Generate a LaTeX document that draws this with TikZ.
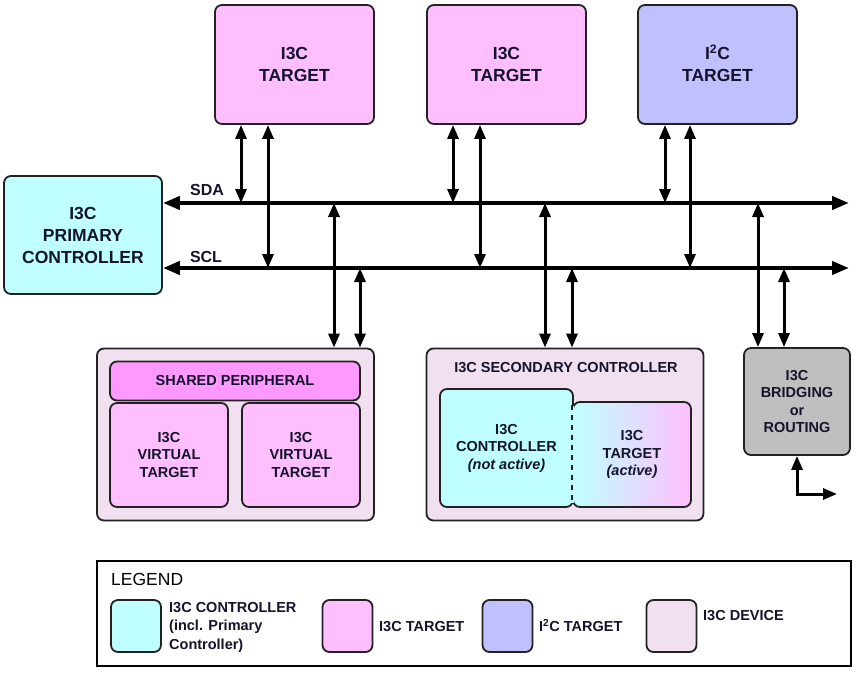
\documentclass[tikz,border=0pt]{standalone}
\usepackage{fontspec}
\setmainfont{Liberation Sans}
\usetikzlibrary{arrows.meta}
\definecolor{cyanC}{HTML}{BFFFFF}
\definecolor{pinkT}{HTML}{FFBFFF}
\definecolor{blueT}{HTML}{C0C0FF}
\definecolor{devC}{HTML}{F0E0F0}
\definecolor{barC}{HTML}{FF99FF}
\definecolor{grayB}{HTML}{BFBFBF}
\definecolor{txt}{HTML}{14142C}
\definecolor{edge}{HTML}{222222}
\begin{document}
\begin{tikzpicture}[x=1pt,y=-1pt,
  box/.style={draw=edge, line width=1.8pt, rounded corners=7pt, align=center, text=txt, inner sep=0pt,
    font=\bfseries\fontsize{17.5}{22}\selectfont},
  sbox/.style={box, font=\bfseries\fontsize{14.5}{17.5}\selectfont},
  lab/.style={text=txt, font=\bfseries\fontsize{16}{19}\selectfont, inner sep=0pt},
  ltxt/.style={text=txt, font=\bfseries\fontsize{14.5}{18.5}\selectfont, inner sep=0pt, anchor=west, align=left},
  tip/.tip={Triangle[length=14pt,width=11pt]},
  bi/.style={line width=3pt, tip-tip},
  bus/.style={line width=4pt, {Triangle[length=17pt,width=13pt]}-{Triangle[length=17pt,width=13pt]}},
]
\useasboundingbox (0,0) rectangle (865,674);
\fill[white] (0,0) rectangle (865,674);

% top devices
\node[box, fill=pinkT, minimum width=159pt, minimum height=119pt] (t1) at (294.5,64.5) {I3C\\TARGET};
\node[box, fill=pinkT, minimum width=159pt, minimum height=119pt] (t2) at (506.5,64.5) {I3C\\TARGET};
\node[box, fill=blueT, minimum width=159pt, minimum height=119pt] (t3) at (717.5,64.5) {I\smash{\textsuperscript{2}}C\\TARGET};

% primary controller
\node[box, fill=cyanC, minimum width=158pt, minimum height=118pt] (pc) at (83,235) {I3C\\PRIMARY\\CONTROLLER};

% bus
\coordinate (sdaE) at (849,203);
\coordinate (sclE) at (849,268);
\draw[bus] (sdaE -| pc.east) -- (sdaE);
\draw[bus] (sclE -| pc.east) -- (sclE);
\node[lab] (sdal) at (207,190) {SDA};
\node[lab] (scll) at (206,257) {SCL};

% shared peripheral
\node[box, fill=devC, minimum width=277pt, minimum height=172pt] (sp) at (235.5,434.5) {};
\node[sbox, fill=barC, minimum width=250pt, minimum height=39pt] (spb) at (235,381) {SHARED PERIPHERAL};
\node[sbox, fill=pinkT, minimum width=118pt, minimum height=104pt] (vt1) at (169,455) {I3C\\VIRTUAL\\TARGET};
\node[sbox, fill=pinkT, minimum width=118pt, minimum height=104pt] (vt2) at (301,455) {I3C\\VIRTUAL\\TARGET};

% secondary controller
\node[box, fill=devC, minimum width=277pt, minimum height=172pt] (sc) at (565,434.5) {};
\node[text=txt, font=\bfseries\fontsize{14.5}{17.5}\selectfont, inner sep=0pt] (sct) at (566,368) {I3C SECONDARY CONTROLLER};
\node[sbox, left color=cyanC, right color=pinkT, minimum width=118pt, minimum height=105pt] (sta) at (632,454.5) {I3C\\TARGET\\\textit{(active)}};
\node[sbox, fill=cyanC, minimum width=133pt, minimum height=118pt] (sco) at (506.5,448) {I3C\\CONTROLLER\\\textit{(not active)}};
\draw[cyanC, line width=3.5pt] ([yshift=-5pt]sta.north west) -- ([yshift=5pt]sta.south west);
\draw[edge, line width=2.2pt, dash pattern=on 5pt off 5pt] ([yshift=-4pt]sta.north west) -- ([yshift=4pt]sta.south west);

% bridging
\node[sbox, fill=grayB, minimum width=106pt, minimum height=107pt] (br) at (797,401.5) {I3C\\BRIDGING\\or\\ROUTING};
\coordinate (brc) at (797,494);
\coordinate (bro) at (837,494);
\draw[bi, miter limit=4] (br.south) -- (brc) -- (bro);

% connectors top
\coordinate (a1) at ([xshift=-53.5pt]t1.south);
\coordinate (a2) at ([xshift=-26.5pt]t1.south);
\coordinate (a3) at ([xshift=-53.5pt]t2.south);
\coordinate (a4) at ([xshift=-26.5pt]t2.south);
\coordinate (a5) at ([xshift=-52.5pt]t3.south);
\coordinate (a6) at ([xshift=-27.5pt]t3.south);
\draw[bi] (a1) -- (a1 |- sdaE);
\draw[bi] (a2) -- (a2 |- sclE);
\draw[bi] (a3) -- (a3 |- sdaE);
\draw[bi] (a4) -- (a4 |- sclE);
\draw[bi] (a5) -- (a5 |- sdaE);
\draw[bi] (a6) -- (a6 |- sclE);

% connectors bottom
\coordinate (b1) at ([xshift=98.5pt]sp.north);
\coordinate (b2) at ([xshift=124.5pt]sp.north);
\coordinate (b3) at ([xshift=-20pt]sc.north);
\coordinate (b4) at ([xshift=7pt]sc.north);
\coordinate (b5) at ([xshift=-39pt]br.north);
\coordinate (b6) at ([xshift=-13pt]br.north);
\draw[bi] (b1 |- sdaE) -- (b1);
\draw[bi] (b2 |- sclE) -- (b2);
\draw[bi] (b3 |- sdaE) -- (b3);
\draw[bi] (b4 |- sclE) -- (b4);
\draw[bi] (b5 |- sdaE) -- (b5);
\draw[bi] (b6 |- sclE) -- (b6);

% legend
\node[draw=black, line width=2pt, minimum width=754pt, minimum height=105pt, inner sep=0pt] (lg) at (474,613.5) {};
\node[text=black, font=\fontsize{17.5}{20}\selectfont, inner sep=0pt, anchor=west] (lgt) at (111,579) {LEGEND};
\node[box, fill=cyanC, minimum width=50pt, minimum height=52pt] (s1) at (136,626) {};
\node[box, fill=pinkT, minimum width=50pt, minimum height=52pt] (s2) at (347.5,626) {};
\node[box, fill=blueT, minimum width=50pt, minimum height=52pt] (s3) at (507.5,626) {};
\node[box, fill=devC, minimum width=50pt, minimum height=52pt] (s4) at (671.5,626) {};
\node[ltxt] (l1) at (169,627) {I3C CONTROLLER\\(incl. Primary\\Controller)};
\node[ltxt] (l2) at (379,627) {I3C TARGET};
\node[ltxt] (l3) at (539,627) {I\smash{\textsuperscript{2}}C TARGET};
\node[ltxt] (l4) at (703,616) {I3C DEVICE};
\end{tikzpicture}
\end{document}
